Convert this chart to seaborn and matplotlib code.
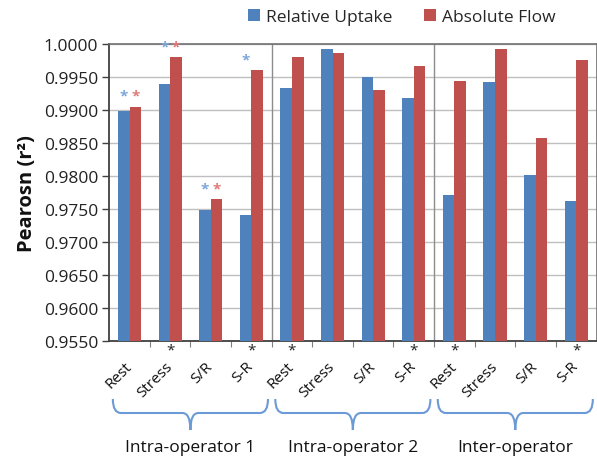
import matplotlib
matplotlib.use("Agg")
import matplotlib.pyplot as plt
import matplotlib.transforms as mtransforms
from matplotlib.path import Path
from matplotlib.patches import PathPatch
import seaborn as sns
import pandas as pd

# ---------------- data ----------------
groups = ["Intra-operator 1", "Intra-operator 2", "Inter-operator"]
conditions = ["Rest", "Stress", "S/R", "S-R"]
series = ["Relative Uptake", "Absolute Flow"]
relative_uptake = [0.9898, 0.9940, 0.9748, 0.9741,
                   0.9933, 0.9992, 0.9950, 0.9919,
                   0.9772, 0.9943, 0.9801, 0.9762]
absolute_flow = [0.9905, 0.9980, 0.9765, 0.9960,
                 0.9980, 0.9987, 0.9930, 0.9967,
                 0.9944, 0.9992, 0.9858, 0.9976]
# coloured significance marks above the bars
sig_relative = [1, 1, 1, 1, 0, 0, 0, 0, 0, 0, 0, 0]
sig_absolute = [1, 1, 1, 0, 0, 0, 0, 0, 0, 0, 0, 0]
# black significance marks below the axis
sig_below = [0, 1, 0, 1, 1, 0, 0, 1, 1, 0, 0, 1]
y_ticks = [0.9550, 0.9600, 0.9650, 0.9700, 0.9750,
           0.9800, 0.9850, 0.9900, 0.9950, 1.0000]
y_label = "Pearosn (r²)"

BLUE = "#4F81BD"
RED = "#C0504D"
BRACE = "#6B9AD6"

keys = [f"{g}|{c}" for g in groups for c in conditions]
labels = [c for g in groups for c in conditions]
df = pd.DataFrame({
    "key": keys * 2,
    "value": relative_uptake + absolute_flow,
    "series": [series[0]] * len(keys) + [series[1]] * len(keys),
})

# ---------------- figure ----------------
sns.set_theme(style="white")
plt.rcParams["font.family"] = ["Open Sans", "DejaVu Sans"]

fig = plt.figure(figsize=(5.97, 4.60), dpi=100)
ax = fig.add_axes([109.2 / 597, 1 - 342.3 / 460, (596.5 - 109.2) / 597, 297.3 / 460])

bar_w = 0.57
sns.barplot(data=df, x="key", y="value", hue="series", order=keys,
            hue_order=series, palette=[BLUE, RED], width=bar_w,
            saturation=1, linewidth=0, ax=ax, zorder=3)

ax.set_ylim(0.955, 1.0)
ax.set_xlim(-0.5, len(keys) - 0.5)
ax.set_yticks(y_ticks)
ax.set_yticklabels([f"{t:.4f}" for t in y_ticks], fontsize=12.5, color="#222222")
ax.yaxis.grid(True, color="#BFBFBF", lw=1, zorder=0)
ax.set_axisbelow(True)
ax.tick_params(axis="y", which="major", direction="out", length=5, width=1,
               color="#404040", pad=3, left=True)

ax.set_ylabel(y_label, fontsize=14.5, fontweight="bold", color="#111111", labelpad=5)
ax.set_xlabel("")

# x tick labels (rotated categories)
ax.set_xticks(range(len(keys)))
ax.set_xticklabels(labels, rotation=45, ha="right", va="center",
                   rotation_mode="anchor", fontsize=11, color="#111111")
ax.tick_params(axis="x", which="major", length=0, pad=16)
off = mtransforms.ScaledTranslation(0, 0, fig.dpi_scale_trans)
for lab in ax.get_xticklabels():
    lab.set_transform(lab.get_transform() + off)
# minor ticks at category boundaries
ax.set_xticks([i + 0.5 for i in range(len(keys) - 1)], minor=True)
ax.tick_params(axis="x", which="minor", direction="out", length=4, width=0.8,
               color="#808080", bottom=True)

for side in ["left", "bottom"]:
    ax.spines[side].set_color("#404040")
    ax.spines[side].set_linewidth(1.3)
for side in ["top", "right"]:
    ax.spines[side].set_color("#707070")
    ax.spines[side].set_linewidth(1.2)

# group separators
for b in [3.5, 7.5]:
    ax.axvline(b, color="#8C8C8C", lw=1, zorder=2)

# coloured asterisks above bars
dx = bar_w / 4
for i in range(len(keys)):
    top = max(relative_uptake[i], absolute_flow[i])
    if sig_relative[i]:
        ax.annotate("*", xy=(i - dx, top), xytext=(0, 3), textcoords="offset points",
                    ha="center", va="bottom", color="#7FA6DC", fontsize=11,
                    fontweight="bold")
    if sig_absolute[i]:
        ax.annotate("*", xy=(i + dx, top), xytext=(0, 3), textcoords="offset points",
                    ha="center", va="bottom", color="#E07A78", fontsize=11,
                    fontweight="bold")

# black asterisks below axis
for i in range(len(keys)):
    if sig_below[i]:
        ax.annotate("*", xy=(i, 0.955), xytext=(0, -1), textcoords="offset points",
                    ha="center", va="top", color="#222222", fontsize=11,
                    annotation_clip=False)

# legend
handles, lbls = ax.get_legend_handles_labels()
if ax.get_legend() is not None:
    ax.get_legend().remove()
fig.legend(handles, lbls, loc="center", bbox_to_anchor=(402 / 597, 1 - 18 / 460),
           ncol=2, frameon=False, fontsize=12.5, handlelength=0.7,
           handleheight=0.7, handletextpad=0.35, columnspacing=1.8)

# braces under each group
trans = mtransforms.blended_transform_factory(ax.transData, fig.transFigure)
y_top, y_mid, y_bot = 1 - 400 / 460, 1 - 414 / 460, 1 - 431 / 460
r = 0.2
for gi, g in enumerate(groups):
    x0 = gi * 4 - 0.5 + 0.09
    x1 = gi * 4 + 3.5 - 0.09
    xc = (x0 + x1) / 2
    verts = [(x0, y_top), (x0, y_mid), (x0 + r, y_mid),
             (xc - r, y_mid), (xc, y_mid), (xc, y_bot),
             (xc, y_mid), (xc + r, y_mid),
             (x1 - r, y_mid), (x1, y_mid), (x1, y_top)]
    codes = [Path.MOVETO, Path.CURVE3, Path.CURVE3,
             Path.LINETO, Path.CURVE3, Path.CURVE3,
             Path.CURVE3, Path.CURVE3,
             Path.LINETO, Path.CURVE3, Path.CURVE3]
    patch = PathPatch(Path(verts, codes), transform=trans, fill=False,
                      edgecolor=BRACE, lw=1.5, clip_on=False)
    fig.add_artist(patch)
    fig.text(0, 0, g, transform=trans, fontsize=12.5, color="#111111",
             ha="center", va="center").set_position((xc, 1 - 448 / 460))

fig.savefig("out.png", dpi=100)
